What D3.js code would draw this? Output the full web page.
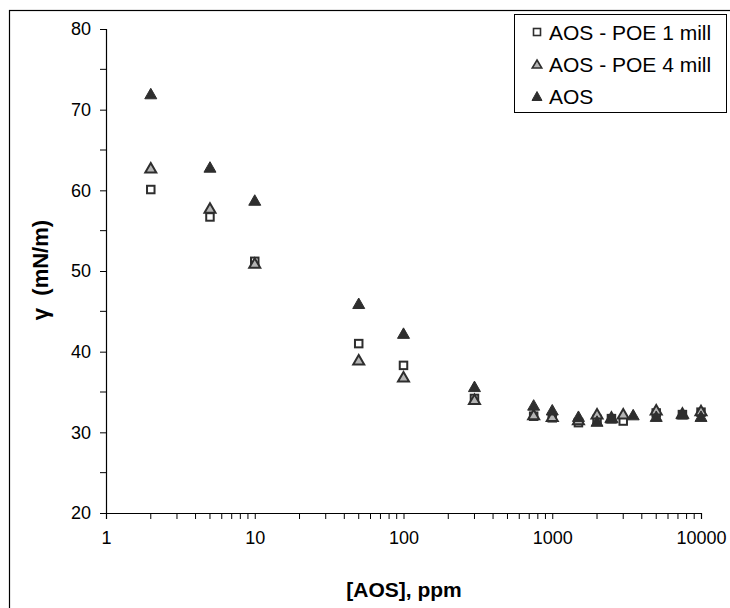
<!DOCTYPE html>
<html>
<head>
<meta charset="utf-8">
<script src="https://cdn.jsdelivr.net/npm/d3@7"></script>
<style>
  html, body { margin: 0; padding: 0; background: #fff; }
  svg { display: block; font-family: "Liberation Sans", Arial, sans-serif; }
</style>
</head>
<body>
<svg id="chart" width="730" height="608"></svg>
<script>
// Surface tension vs. AOS concentration, three formulations
const seriesNames = ["AOS - POE 1 mill", "AOS - POE 4 mill", "AOS"];

const poe1Conc = [2, 5, 10, 50, 100, 300, 750, 1000, 1500, 2000, 2500, 3000, 5000, 7500, 10000];
const poe1Gamma = [60.1, 56.7, 51.2, 41.0, 38.3, 34.2, 32.0, 31.8, 31.2, 31.6, 31.7, 31.4, 32.4, 32.2, 32.5];

const poe4Conc = [2, 5, 10, 50, 100, 300, 750, 1000, 1500, 2000, 2500, 3000, 5000, 7500, 10000];
const poe4Gamma = [62.8, 57.8, 51.0, 39.0, 36.9, 34.1, 32.2, 32.0, 31.6, 32.3, 31.9, 32.3, 32.8, 32.4, 32.7];

const aosConc = [2, 5, 10, 50, 100, 300, 750, 1000, 1500, 2000, 2500, 3500, 5000, 7500, 10000];
const aosGamma = [72.0, 62.9, 58.8, 46.0, 42.3, 35.7, 33.4, 32.8, 32.0, 31.4, 31.8, 32.2, 32.0, 32.3, 32.0];

const xTickValues = [1, 10, 100, 1000, 10000];
const yTickValues = [20, 30, 40, 50, 60, 70, 80];

const svg = d3.select("#chart");
const dark = "#2e2e2e";

// outer chart frame
svg.append("rect")
  .attr("x", 9.5).attr("y", 10.5)
  .attr("width", 740).attr("height", 620)
  .attr("fill", "none").attr("stroke", "#000").attr("stroke-width", 1.2);

const x = d3.scaleLog().domain([1, 10000]).range([106, 701]);
const y = d3.scaleLinear().domain([20, 80]).range([513, 29]);

// minor ticks for the log axis (2..9 in each decade)
const xMinor = [];
for (let d = 1; d < 10000; d *= 10) for (let k = 2; k <= 9; k++) xMinor.push(d * k);
const yMinor = d3.range(25, 80, 10);

const xAxis = d3.axisBottom(x).tickValues(xTickValues).tickFormat(d3.format("d")).tickSize(6).tickPadding(12);
const yAxis = d3.axisLeft(y).tickValues(yTickValues).tickSize(6).tickPadding(9);

const gx = svg.append("g").attr("transform", "translate(0,513)").call(xAxis);
const gy = svg.append("g").attr("transform", "translate(106,0)").call(yAxis);

gx.append("g").selectAll("line").data(xMinor).join("line")
  .attr("x1", d => x(d)).attr("x2", d => x(d)).attr("y1", 0).attr("y2", 6)
  .attr("stroke", "#000");
gy.append("g").selectAll("line").data(yMinor).join("line")
  .attr("y1", d => y(d)).attr("y2", d => y(d)).attr("x1", 0).attr("x2", -6)
  .attr("stroke", "#000");

[gx, gy].forEach(g => {
  g.select(".domain").attr("stroke", "#000").attr("stroke-width", 1.2);
  g.selectAll(".tick line").attr("stroke", "#000");
  g.selectAll(".tick text").attr("fill", "#000").style("font-size", "18px")
    .style("font-family", "'Liberation Sans', Arial, sans-serif");
});

// axis titles
svg.append("text")
  .attr("x", 404).attr("y", 597)
  .attr("text-anchor", "middle")
  .style("font-size", "21px").style("font-weight", "bold")
  .text("[AOS], ppm");

svg.append("text")
  .attr("transform", "translate(48,270) rotate(-90)")
  .attr("text-anchor", "middle")
  .style("font-size", "22px").style("font-weight", "bold")
  .attr("xml:space", "preserve")
  .text("γ  (mN/m)");

// marker shapes
function trianglePath(w, h) {
  return `M0,${-h / 2}L${w / 2},${h / 2}L${-w / 2},${h / 2}Z`;
}
function drawSquare(g, s) {
  return g.append("rect").attr("x", -s / 2).attr("y", -s / 2).attr("width", s).attr("height", s)
    .attr("fill", "#fff").attr("stroke", dark).attr("stroke-width", 2);
}
function drawGrayTri(g, w, h) {
  return g.append("path").attr("d", trianglePath(w, h))
    .attr("fill", "#b4b4b4").attr("stroke", dark).attr("stroke-width", 2).attr("stroke-linejoin", "miter");
}
function drawDarkTri(g, w, h) {
  return g.append("path").attr("d", trianglePath(w, h))
    .attr("fill", dark).attr("stroke", dark).attr("stroke-width", 1);
}

const plot = svg.append("g");

const sq = plot.append("g").selectAll("g")
  .data(d3.zip(poe1Conc, poe1Gamma)).join("g")
  .attr("transform", d => `translate(${x(d[0])},${y(d[1])})`);
sq.each(function () { drawSquare(d3.select(this), 7.5); });

const gt = plot.append("g").selectAll("g")
  .data(d3.zip(poe4Conc, poe4Gamma)).join("g")
  .attr("transform", d => `translate(${x(d[0])},${y(d[1])})`);
gt.each(function () { drawGrayTri(d3.select(this), 11, 9.5); });

const dt = plot.append("g").selectAll("g")
  .data(d3.zip(aosConc, aosGamma)).join("g")
  .attr("transform", d => `translate(${x(d[0])},${y(d[1])})`);
dt.each(function () { drawDarkTri(d3.select(this), 12, 10.5); });

// legend
const lg = svg.append("g");
lg.append("rect")
  .attr("x", 514.5).attr("y", 14.5).attr("width", 212).attr("height", 98)
  .attr("fill", "#fff").attr("stroke", "#000").attr("stroke-width", 1);

const rowY = [32, 64, 96];
const drawers = [
  g => drawSquare(g, 7).attr("stroke-width", 1.6),
  g => drawGrayTri(g, 9.5, 8).attr("stroke-width", 1.6),
  g => drawDarkTri(g, 10, 9)
];
seriesNames.forEach((name, i) => {
  const row = lg.append("g").attr("transform", `translate(0,${rowY[i]})`);
  drawers[i](row.append("g").attr("transform", "translate(537,0)"));
  row.append("text")
    .attr("x", 549).attr("y", 7.5)
    .style("font-size", "21px").attr("fill", "#000")
    .text(name);
});
</script>
</body>
</html>
